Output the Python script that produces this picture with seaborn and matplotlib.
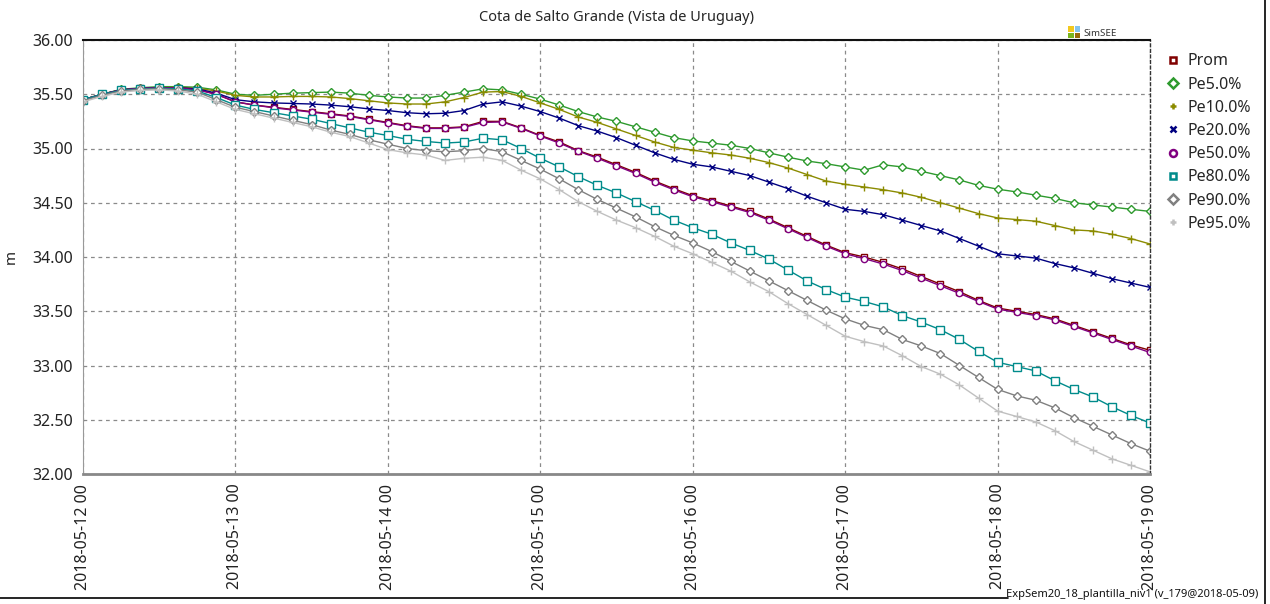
import numpy as np
import pandas as pd
import matplotlib
matplotlib.use("Agg")
import matplotlib.pyplot as plt
import matplotlib.dates as mdates
from matplotlib.lines import Line2D
from matplotlib.patches import Rectangle
import seaborn as sns

# ---------------- data (3-hourly samples, 2018-05-12 00h .. 2018-05-19 00h) -------------
inicio = "2018-05-12 00:00"
paso_horas = 3
n_puntos = 57

prom = [35.45, 35.50, 35.54, 35.555, 35.56, 35.56, 35.545, 35.50,
        35.43, 35.40, 35.38, 35.36, 35.34, 35.32, 35.30, 35.27,
        35.24, 35.21, 35.19, 35.19, 35.20, 35.25, 35.25, 35.19,
        35.12, 35.06, 34.98, 34.92, 34.85, 34.78, 34.70, 34.63,
        34.565, 34.52, 34.47, 34.42, 34.35, 34.27, 34.19, 34.11,
        34.04, 34.00, 33.95, 33.89, 33.82, 33.75, 33.68, 33.60,
        33.53, 33.50, 33.47, 33.43, 33.37, 33.31, 33.25, 33.19,
        33.14]
pe5 = [35.45, 35.50, 35.545, 35.56, 35.57, 35.57, 35.565, 35.54,
       35.50, 35.49, 35.50, 35.51, 35.515, 35.52, 35.51, 35.49,
       35.475, 35.465, 35.465, 35.49, 35.52, 35.55, 35.54, 35.50,
       35.455, 35.40, 35.34, 35.29, 35.25, 35.20, 35.15, 35.10,
       35.07, 35.05, 35.03, 35.00, 34.96, 34.92, 34.885, 34.86,
       34.83, 34.80, 34.85, 34.83, 34.79, 34.75, 34.71, 34.66,
       34.625, 34.60, 34.57, 34.54, 34.50, 34.48, 34.46, 34.44,
       34.42]
pe10 = [35.45, 35.50, 35.54, 35.555, 35.56, 35.565, 35.555, 35.53,
        35.49, 35.475, 35.475, 35.48, 35.48, 35.475, 35.46, 35.44,
        35.42, 35.41, 35.41, 35.43, 35.47, 35.52, 35.525, 35.48,
        35.42, 35.36, 35.29, 35.24, 35.18, 35.12, 35.06, 35.01,
        34.985, 34.96, 34.94, 34.91, 34.87, 34.82, 34.76, 34.70,
        34.67, 34.645, 34.62, 34.59, 34.55, 34.50, 34.45, 34.40,
        34.36, 34.345, 34.33, 34.29, 34.25, 34.24, 34.21, 34.17,
        34.12]
pe20 = [35.45, 35.50, 35.54, 35.555, 35.56, 35.56, 35.55, 35.51,
        35.45, 35.43, 35.42, 35.415, 35.41, 35.40, 35.385, 35.365,
        35.35, 35.33, 35.32, 35.325, 35.35, 35.41, 35.43, 35.39,
        35.34, 35.28, 35.21, 35.16, 35.10, 35.03, 34.96, 34.90,
        34.855, 34.83, 34.79, 34.75, 34.69, 34.63, 34.56, 34.50,
        34.44, 34.42, 34.39, 34.34, 34.29, 34.24, 34.17, 34.10,
        34.03, 34.01, 33.99, 33.94, 33.90, 33.85, 33.80, 33.76,
        33.72]
pe50 = [35.45, 35.50, 35.54, 35.555, 35.56, 35.56, 35.54, 35.50,
        35.43, 35.40, 35.375, 35.355, 35.335, 35.315, 35.295, 35.265,
        35.235, 35.205, 35.185, 35.185, 35.195, 35.24, 35.245, 35.185,
        35.115, 35.05, 34.975, 34.91, 34.84, 34.77, 34.69, 34.62,
        34.555, 34.51, 34.46, 34.41, 34.34, 34.26, 34.18, 34.10,
        34.03, 33.985, 33.935, 33.875, 33.805, 33.735, 33.665, 33.59,
        33.52, 33.49, 33.46, 33.42, 33.36, 33.30, 33.24, 33.18,
        33.12]
pe80 = [35.45, 35.50, 35.535, 35.55, 35.555, 35.55, 35.53, 35.47,
        35.40, 35.36, 35.33, 35.30, 35.27, 35.23, 35.19, 35.15,
        35.12, 35.085, 35.065, 35.05, 35.06, 35.095, 35.08, 35.00,
        34.91, 34.83, 34.74, 34.66, 34.59, 34.51, 34.43, 34.34,
        34.27, 34.21, 34.13, 34.06, 33.98, 33.88, 33.78, 33.70,
        33.63, 33.59, 33.54, 33.46, 33.40, 33.33, 33.24, 33.13,
        33.03, 32.99, 32.95, 32.86, 32.78, 32.71, 32.62, 32.54,
        32.47]
pe90 = [35.44, 35.49, 35.53, 35.545, 35.55, 35.54, 35.52, 35.45,
        35.38, 35.34, 35.30, 35.26, 35.22, 35.17, 35.13, 35.08,
        35.04, 35.00, 34.98, 34.97, 34.98, 35.00, 34.97, 34.89,
        34.81, 34.72, 34.62, 34.53, 34.45, 34.37, 34.28, 34.20,
        34.13, 34.05, 33.96, 33.87, 33.78, 33.69, 33.60, 33.51,
        33.43, 33.37, 33.33, 33.24, 33.18, 33.11, 33.00, 32.89,
        32.78, 32.72, 32.68, 32.61, 32.52, 32.44, 32.36, 32.28,
        32.21]
pe95 = [35.43, 35.48, 35.52, 35.535, 35.54, 35.53, 35.50, 35.43,
        35.36, 35.32, 35.28, 35.24, 35.20, 35.15, 35.11, 35.05,
        34.99, 34.96, 34.94, 34.89, 34.91, 34.92, 34.89, 34.80,
        34.72, 34.62, 34.51, 34.42, 34.34, 34.27, 34.19, 34.10,
        34.03, 33.95, 33.87, 33.77, 33.68, 33.57, 33.47, 33.37,
        33.27, 33.22, 33.18, 33.09, 32.99, 32.92, 32.82, 32.70,
        32.58, 32.53, 32.48, 32.40, 32.30, 32.22, 32.14, 32.08,
        32.02]

nombres = ["Prom", "Pe5.0%", "Pe10.0%", "Pe20.0%", "Pe50.0%", "Pe80.0%", "Pe90.0%", "Pe95.0%"]
series = [prom, pe5, pe10, pe20, pe50, pe80, pe90, pe95]

titulo = "Cota de Salto Grande (Vista de Uruguay)"
etiqueta_y = "m"
pie = "ExpSem20_18_plantilla_niv1 (v_179@2018-05-09)"

# ---------------- styles ----------------
colores = ["#800000", "#2E9A2E", "#8B8B00", "#000080", "#800080", "#008B8B", "#808080", "#C0C0C0"]
marcadores = ["s", "D", "+", "x", "o", "s", "D", "+"]
tamanos = [5, 4.5, 6, 5, 4.5, 5.5, 4.5, 6]

fechas = pd.date_range(inicio, periods=n_puntos, freq=f"{paso_horas}h")
df = pd.concat([pd.DataFrame({"fecha": fechas, "valor": v, "serie": n})
                for n, v in zip(nombres, series)], ignore_index=True)

sns.set_style("white")
plt.rcParams["font.family"] = ["Noto Sans", "DejaVu Sans"]

fig = plt.figure(figsize=(12.7, 6.04), dpi=100)
ax = fig.add_axes([83 / 1270, 1 - 474 / 604, (1150 - 83) / 1270, (474 - 40) / 604])

for n, c, m, s in zip(nombres, colores, marcadores, tamanos):
    sub = df[df["serie"] == n]
    filled = m not in ("+", "x")
    sns.lineplot(data=sub, x="fecha", y="valor", ax=ax, color=c, lw=1.0,
                 marker=m, markersize=s,
                 markerfacecolor="white" if filled else c,
                 markeredgecolor=c, markeredgewidth=1.0, legend=False)

ax.set_xlim(pd.Timestamp("2018-05-12 00:00"), pd.Timestamp("2018-05-19 00:00"))
ax.set_ylim(32.0, 36.0)
ax.set_yticks(np.arange(32.0, 36.01, 0.5))
ax.yaxis.set_major_formatter(matplotlib.ticker.FormatStrFormatter("%.2f"))
ax.xaxis.set_major_locator(mdates.DayLocator())
ax.xaxis.set_major_formatter(mdates.DateFormatter("%Y-%m-%d %H"))
plt.setp(ax.get_xticklabels(), rotation=90, fontsize=11.5, color="#222222")
plt.setp(ax.get_yticklabels(), fontsize=11.5, color="#222222")
ax.tick_params(axis="both", length=3, color="#999999", pad=4)
ax.set_xlabel("")
ax.set_ylabel(etiqueta_y, fontsize=11, labelpad=10)
ax.grid(True, color="#8a8a8a", linestyle=(0, (3, 3)), linewidth=0.9)

ax.spines["left"].set_color("#999999")
ax.spines["left"].set_linewidth(0.8)
ax.spines["bottom"].set_color("#888888")
ax.spines["bottom"].set_linewidth(2)
ax.spines["top"].set_color("#111111")
ax.spines["top"].set_linewidth(1.5)
ax.spines["right"].set_color("#333333")
ax.spines["right"].set_linewidth(1)
ax.spines["right"].set_linestyle((0, (2, 2)))

ax.set_title(titulo, fontsize=10.5, pad=14)

# legend (markers only)
handles = [Line2D([], [], linestyle="none", marker=m, color=c, markersize=5,
                  markerfacecolor="white" if m not in ("+", "x") else c,
                  markeredgewidth=1.8)
           for c, m in zip(colores, marcadores)]
fig.legend(handles, nombres, loc="upper left", bbox_to_anchor=(1160 / 1270, 1 - 47 / 604),
           frameon=False, fontsize=11.5, handlelength=0.8, handletextpad=0.5,
           labelspacing=0.45, borderaxespad=0)

# SimSEE logo
sq = 5.5 / 1270
sqh = 5.5 / 604
x0, y0 = 1068 / 1270, 1 - 38 / 604
for dx, dy, col in [(0, 1, "#F2C81E"), (1, 1, "#84C4EE"), (0, 0, "#7AB51D"), (1, 0, "#9A6A0A")]:
    fig.add_artist(Rectangle((x0 + dx * (sq + 1 / 1270), y0 + dy * (sqh + 1 / 604)), sq, sqh,
                             transform=fig.transFigure, color=col, lw=0))
fig.text(1083 / 1270, 1 - 34 / 604, "SimSEE", fontsize=7, color="#333333", va="center")

# outer border lines and footer
fig.add_artist(Line2D([1265 / 1270, 1265 / 1270], [0, 1], transform=fig.transFigure,
                      color="black", lw=1.2))
fig.add_artist(Line2D([0, 1008 / 1270], [1 - 598 / 604, 1 - 598 / 604], transform=fig.transFigure,
                      color="black", lw=1.2))
fig.text(1258 / 1270, 1 - 594 / 604, pie, fontsize=8, ha="right", va="center", color="#111111")

fig.savefig("out.png", dpi=100)
